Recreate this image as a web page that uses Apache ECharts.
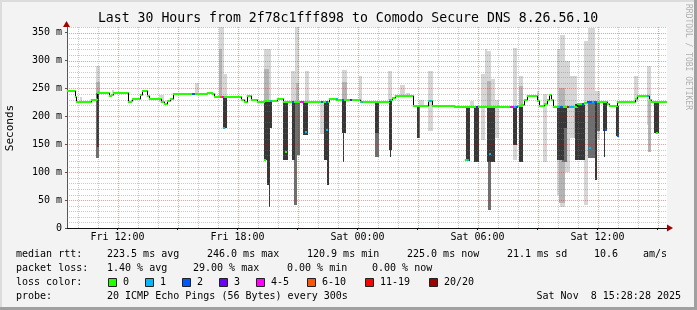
<!DOCTYPE html>
<html><head><meta charset="utf-8">
<script src="https://cdn.jsdelivr.net/npm/echarts@6/dist/echarts.min.js"></script>
<style>html,body{margin:0;padding:0;background:#f3f3f3}#c{width:697px;height:310px}</style>
</head><body><div id="c"></div>
<script>
// ---- time axis: hours counted from Fri 00:00 ----
const startHour = 9 + 28/60 + 28/3600;   // Fri 09:28:28
const spanHours = 30;
const endHour = startHour + spanHours;   // Sat 15:28:28
const xTickHours = [12, 18, 24, 30, 36];
const xTickLabels = ['Fri 12:00', 'Fri 18:00', 'Sat 00:00', 'Sat 06:00', 'Sat 12:00'];
const yTickValues = [0, 50, 100, 150, 200, 250, 300, 350];
const yTickLabels = ['0', '50 m', '100 m', '150 m', '200 m', '250 m', '300 m', '350 m'];
const yMax = 360;

// median rtt (ms): [start hour, value]
const medianSteps = [
  [9.474,245],[9.874,234],[9.949,225.5],[10.699,229],[10.909,231],[10.989,241.5],[11.574,236],[11.689,238],
  [11.789,241.5],[12.524,225],[12.659,228],[12.739,231],[13.124,239],[13.249,245],[13.474,236],[13.599,230.5],
  [14.199,226],[14.324,222],[14.474,227],[14.624,231],[14.789,240.5],[16.459,242],[16.709,240],[16.824,234.5],
  [18.199,230],[18.324,226],[18.459,236.5],[18.699,229],[18.959,226],[19.324,228],[19.974,231],[20.274,226.5],
  [22.574,230.5],[22.924,228.5],[24.124,226.5],[24.574,225],[24.739,226.5],[24.909,225],[25.574,230],[25.739,233],
  [25.859,235.7],[26.789,217.7],[27.539,228],[27.709,217.7],[28.824,216],[31.974,218],[32.159,221],[32.324,228.6],
  [32.459,237],[32.959,227],[33.074,218],[33.324,222],[33.489,229],[33.599,238],[33.699,229],[33.774,216],
  [34.959,222],[35.324,224],[35.489,225.5],[36.474,222],[36.574,217.7],[36.959,225.5],[37.859,230.5],[37.989,237],
  [38.589,229],[38.689,225.5]
];
// packet loss buckets on the median line: [start hour, end hour, bucket index]
const lossSegments = [
  [15.739,15.874,2],[17.124,17.209,5],[17.209,17.324,4],[19.624,19.709,1],[20.739,20.824,2],[21.124,21.324,4],
  [22.159,22.239,2],[22.409,22.489,2],[22.909,22.989,1],[23.239,23.324,2],[23.624,23.689,3],[24.159,24.239,1],
  [25.574,25.659,1],[27.574,27.709,1],[29.909,30.024,3],[31.624,31.824,4],[31.824,31.909,1],[31.909,31.989,2],
  [34.039,34.124,1],[34.124,34.274,2],[34.459,34.574,6],[34.574,34.824,1],[35.239,35.324,2],[35.489,35.724,2],
  [35.724,35.824,1],[35.824,35.989,2],[38.489,38.589,1]
];
// small loss markers at the foot of smoke bars: [hour, ms, bucket index]
const lossMarks = [
  [17.324,179,1],[19.374,122,0],[20.41,136,0],[21.424,172,1],[22.474,175,1],[29.42,122,0],[29.5,122,1],
  [30.6,132,1],[35.62,143,1],[36.4,176,2],[37.0,164,2],[38.99,170,0]
];
// smoke bands: [start hour, end hour, low ms, high ms]
const smokeLight = [
  [10.124,10.224,226,234],[10.924,11.124,241,290],[11.724,11.824,241,248],[14.074,14.324,226,238],
  [15.859,16.074,240,260],[17.074,17.324,234,360],[17.324,17.474,234,275],[19.349,19.674,226,320],
  [20.699,20.874,228,282],[20.874,21.074,228,360],[21.374,21.589,228,281],[22.124,22.324,168,228],
  [23.209,23.459,228,283],[24.074,24.239,228,273],[25.539,25.739,230,281],[26.124,26.359,236,257],
  [26.424,26.624,236,242],[27.074,27.324,218,230],[27.539,27.774,173,281],[29.624,29.824,216,228],
  [30.189,30.359,158,275],[30.359,30.489,216,320],[30.489,30.674,216,317],[30.674,30.859,216,266],
  [30.859,31.074,161,230],[31.789,31.989,122,323],[32.074,32.289,216,272],[32.989,33.089,227,245],
  [33.289,33.489,119,240],[33.959,34.124,60,320],[34.124,34.374,38,345],[34.374,34.624,100,300],
  [34.624,34.989,161,272],[35.324,35.524,41,335],[35.524,35.874,128,359],[35.874,36.124,160,245],
  [37.824,38.024,225,272],[38.459,38.659,185,290]
];
const smokeGrey = [
  [10.924,11.124,241,262],[17.099,17.249,234,320],[19.349,19.599,226,284],[20.924,21.074,228,260],
  [23.249,23.459,228,262],[30.489,30.659,216,263],[32.099,32.274,216,255],[34.074,34.374,45,250],
  [34.824,34.989,161,216],[34.959,35.124,140,216],[38.524,38.659,137,228]
];
const smokeMid = [
  [10.949,11.099,125,241],[20.824,20.999,41,228],[20.999,21.124,131,228],[24.874,25.074,128,225],
  [26.959,27.124,161,218],[30.524,30.674,32,216],[34.224,34.474,119,216],[35.524,35.874,126,225],
  [35.989,36.124,173,225]
];
const smokeDark = [
  [10.999,11.074,145,241],[17.259,17.459,179,234],[19.324,19.499,122,228],[19.499,19.649,77,228],
  [19.574,19.624,38,77],[19.649,19.724,179,228],[20.289,20.539,122,226],[20.709,20.874,122,226],
  [21.289,21.539,167,226],[22.339,22.589,122,226],[22.459,22.589,77,122],[23.209,23.424,170,228],
  [23.299,23.349,119,170],[24.859,25.074,170,225],[25.574,25.739,140,230],[25.624,25.674,128,140],
  [26.974,27.074,161,218],[29.409,29.609,120,216],[29.824,30.074,119,216],[30.459,30.859,119,216],
  [31.789,31.959,149,216],[32.074,32.289,119,216],[33.974,34.324,122,216],[34.324,34.474,179,216],
  [34.874,35.374,122,222],[35.859,35.989,86,225],[36.289,36.459,173,225],[36.349,36.399,128,173],
  [36.909,37.074,164,218],[38.824,39.074,170,225]
];
const lossNames = ['0', '1', '2', '3', '4-5', '6-10', '11-19', '20/20'];
const lossColors = ['#26ff00', '#00b8ff', '#0059ff', '#6a00ff', '#ff00ff', '#ff5500', '#ff0000', '#a10000'];

const FONT = 'DejaVu Sans Mono';
const L = 67, T = 27, W = 600, H = 201;

function rectSeries(data, color) {
  return {
    type: 'custom', clip: true, silent: true, data,
    renderItem(params, api) {
      const a = api.coord([api.value(0), Math.min(api.value(3), yMax)]);
      const b = api.coord([api.value(1), api.value(2)]);
      const x0 = Math.round(a[0]), x1 = Math.max(Math.round(b[0]), x0 + 1);
      const y0 = Math.round(a[1]), y1 = Math.round(b[1]);
      return { type: 'rect', shape: { x: x0, y: y0, width: x1 - x0, height: Math.max(1, y1 - y0) }, style: { fill: color } };
    }
  };
}
function vGrid(hours, color) {
  return {
    type: 'custom', clip: true, silent: true, data: hours.map(h => [h]),
    renderItem(params, api) {
      const a = api.coord([api.value(0), 0]), b = api.coord([api.value(0), yMax]);
      const x = Math.round(a[0]) + 0.5;
      return { type: 'line', shape: { x1: x, y1: a[1], x2: x, y2: b[1] }, style: { stroke: color, lineWidth: 1, lineDash: [1, 1] } };
    }
  };
}
function hGrid(vals, color) {
  return {
    type: 'custom', clip: true, silent: true, data: vals.map(v => [v]),
    renderItem(params, api) {
      const a = api.coord([startHour, api.value(0)]), b = api.coord([endHour, api.value(0)]);
      const y = Math.round(a[1]) + 0.5;
      return { type: 'line', shape: { x1: a[0], y1: y, x2: b[0], y2: y }, style: { stroke: color, lineWidth: 1, lineDash: [1, 1] } };
    }
  };
}
function medianAt(t) {
  let v = medianSteps[0][1];
  for (const s of medianSteps) { if (s[0] <= t + 1e-6) v = s[1]; else break; }
  return v;
}
const medianSegs = medianSteps.map((s, i) => {
  const n = medianSteps[i + 1];
  return [s[0], n ? n[0] : endHour, s[1], n ? n[1] : s[1]];
});

const minorX = [], majorX = [];
for (let h = Math.ceil(startHour); h <= endHour; h++) (h % 3 === 0 ? majorX : minorX).push(h);
const minorY = [], majorY = [];
for (let v = 10; v <= yMax; v += 10) (v % 50 === 0 ? majorY : minorY).push(v);

const series = [
  rectSeries(smokeLight, '#d6d6d6'),
  rectSeries(smokeGrey, '#b4b4b4'),
  rectSeries(smokeMid, '#6e6e6e'),
  rectSeries(smokeDark, '#373737'),
  vGrid(minorX, 'rgba(120,120,120,0.4)'),
  hGrid(minorY, 'rgba(120,120,120,0.4)'),
  vGrid(majorX, 'rgba(230,0,0,0.38)'),
  hGrid(majorY, 'rgba(230,0,0,0.38)'),
  {
    type: 'custom', clip: true, silent: true, data: medianSegs,
    renderItem(params, api) {
      const a = api.coord([api.value(0), api.value(2)]);
      const b = api.coord([api.value(1), api.value(2)]);
      const c = api.coord([api.value(1), api.value(3)]);
      const y = Math.round(a[1]), yc = Math.round(c[1]);
      const xb = Math.round(b[0]) + 0.5;
      return { type: 'group', children: [
        { type: 'line', shape: { x1: Math.round(a[0]), y1: y, x2: Math.round(b[0]) + 1, y2: y }, style: { stroke: lossColors[0], lineWidth: 2 } },
        { type: 'line', shape: { x1: xb, y1: y, x2: xb, y2: yc }, style: { stroke: '#000', lineWidth: 1 } }
      ]};
    }
  },
  {
    type: 'custom', clip: true, silent: true, data: lossSegments,
    renderItem(params, api) {
      const v = medianAt(api.value(0));
      const a = api.coord([api.value(0), v]), b = api.coord([api.value(1), v]);
      const y = Math.round(a[1]);
      return { type: 'line', shape: { x1: Math.round(a[0]), y1: y, x2: Math.max(Math.round(b[0]), Math.round(a[0]) + 2), y2: y }, style: { stroke: lossColors[api.value(2)], lineWidth: 2 } };
    }
  },
  {
    type: 'custom', clip: true, silent: true, data: lossMarks,
    renderItem(params, api) {
      const p = api.coord([api.value(0), api.value(1)]);
      return { type: 'rect', shape: { x: Math.round(p[0]) - 1, y: Math.round(p[1]) - 1, width: 2, height: 2 }, style: { fill: lossColors[api.value(2)] } };
    }
  }
];

// footer / legend texts
const footer = [
  [16, 254, 'median rtt:'], [107, 254, '223.5 ms avg'], [207, 254, '246.0 ms max'], [307, 254, '120.9 ms min'],
  [407, 254, '225.0 ms now'], [507, 254, '21.1 ms sd'], [594, 254, '10.6'], [643, 254, 'am/s'],
  [16, 268, 'packet loss:'], [107, 268, '1.40 % avg'], [193, 268, '29.00 % max'], [287, 268, '0.00 % min'], [372, 268, '0.00 % now'],
  [16, 282, 'loss color:'],
  [16, 296, 'probe:'], [107, 296, '20 ICMP Echo Pings (56 Bytes) every 300s']
];
const legendX = [108, 145, 182, 219, 256, 307, 365, 429];
const graphic = [];
footer.forEach(f => graphic.push({ type: 'text', x: f[0], y: f[1], style: { text: f[2], font: '10px "' + FONT + '"', fill: '#000', textVerticalAlign: 'middle' } }));
legendX.forEach((x, i) => {
  graphic.push({ type: 'rect', shape: { x: x + 0.5, y: 278.5, width: 8, height: 8 }, style: { fill: lossColors[i], stroke: '#222', lineWidth: 1 } });
  graphic.push({ type: 'text', x: x + 15, y: 282, style: { text: lossNames[i], font: '10px "' + FONT + '"', fill: '#000', textVerticalAlign: 'middle' } });
});
graphic.push(
  { type: 'text', x: 681, y: 296, style: { text: 'Sat Nov  8 15:28:28 2025', font: '10px "' + FONT + '"', fill: '#000', textAlign: 'right', textVerticalAlign: 'middle' } },
  { type: 'text', x: 348, y: 19, style: { text: 'Last 30 Hours from 2f78c1fff898 to Comodo Secure DNS 8.26.56.10', font: '13.2px "' + FONT + '"', fill: '#000', textAlign: 'center', textVerticalAlign: 'middle' } },
  { type: 'text', x: 10, y: 128, rotation: Math.PI / 2, style: { text: 'Seconds', font: '11px "' + FONT + '"', fill: '#000', textAlign: 'center', textVerticalAlign: 'middle' } },
  { type: 'text', x: 688, y: 4, rotation: -Math.PI / 2, style: { text: 'RRDTOOL / TOBI OETIKER', font: '8px "' + FONT + '"', fill: '#b0b0b0', textAlign: 'left', textVerticalAlign: 'middle' } },
  // axis arrows
  { type: 'polygon', shape: { points: [[63, 27], [70, 27], [66.5, 21]] }, style: { fill: '#a00000' }, z: 100 },
  { type: 'polygon', shape: { points: [[667, 224.5], [667, 231.5], [673, 228]] }, style: { fill: '#a00000' }, z: 100 },
  // frame shading
  { type: 'rect', shape: { x: 0, y: 0, width: 697, height: 2 }, style: { fill: '#dcdcdc' } },
  { type: 'rect', shape: { x: 0, y: 0, width: 2, height: 310 }, style: { fill: '#dcdcdc' } },
  { type: 'rect', shape: { x: 694, y: 0, width: 3, height: 310 }, style: { fill: '#a0a0a0' } },
  { type: 'rect', shape: { x: 0, y: 307, width: 697, height: 3 }, style: { fill: '#a0a0a0' } }
);

const chart = echarts.init(document.getElementById('c'), null, { renderer: 'canvas' });
chart.setOption({
  backgroundColor: '#f3f3f3',
  animation: false,
  grid: { left: L, top: T, width: W, height: H, show: true, backgroundColor: '#ffffff', borderWidth: 0 },
  xAxis: {
    type: 'value', min: startHour, max: endHour,
    axisLine: { show: true, lineStyle: { color: '#111', width: 1 } },
    axisTick: { show: true, customValues: majorX, length: 2, lineStyle: { color: '#111' } },
    axisLabel: { customValues: xTickHours, margin: 4, fontFamily: FONT, fontSize: 10, color: '#000',
      formatter: v => { let i = 0, d = 1e9; xTickHours.forEach((h, k) => { if (Math.abs(h - v) < d) { d = Math.abs(h - v); i = k; } }); return xTickLabels[i]; } },
    splitLine: { show: false }
  },
  yAxis: {
    type: 'value', min: 0, max: yMax,
    axisLine: { show: true, lineStyle: { color: '#555', width: 1 } },
    axisTick: { show: true, customValues: yTickValues, length: 2, lineStyle: { color: '#555' } },
    axisLabel: { customValues: yTickValues, margin: 5, fontFamily: FONT, fontSize: 10, color: '#000',
      formatter: v => { const i = yTickValues.indexOf(Math.round(v)); return i >= 0 ? yTickLabels[i] : ''; } },
    splitLine: { show: false }
  },
  series,
  graphic
});
</script></body></html>
